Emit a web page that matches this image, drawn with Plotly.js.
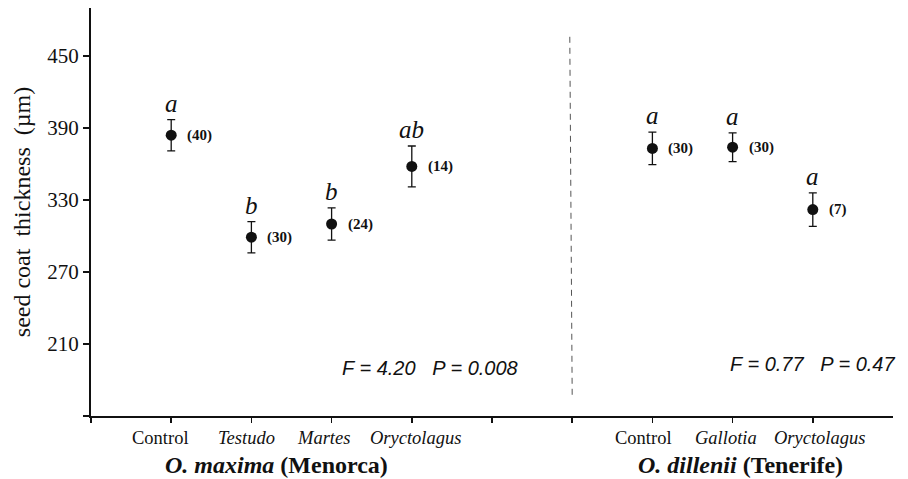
<!DOCTYPE html>
<html><head><meta charset="utf-8">
<script src="https://cdn.plot.ly/plotly-3.0.1.min.js"></script>
<style>html,body{margin:0;padding:0;background:#fff}#chart{width:908px;height:479px}</style>
</head><body><div id="chart"></div>
<script>
// Data
const categories = ["Control","Testudo","Martes","Oryctolagus","Control","Gallotia","Oryctolagus"];
const italicCat = [false,true,true,true,false,true,true];
const xPos = [1,2,3,4,7,8,9];
const means = [384,299,310,358,373,374,322];
const errs = [13,13,13.5,17,13.5,12,14];
const letters = ["a","b","b","ab","a","a","a"];
const nSizes = ["(40)","(30)","(24)","(14)","(30)","(30)","(7)"];
const groupTitles = ["<i>O. maxima</i> (Menorca)","<i>O. dillenii</i> (Tenerife)"];
const groupX = [2.31,8.1];
const stats = ["F = 4.20   P = 0.008","F = 0.77   P = 0.47"];
const statX = [4.23,9.0];
const statY = [190,193];
const yTicks = [150,210,270,330,390,450];
const yTickText = ["","210","270","330","390","450"];

// label pixel offsets (style)
const labelShift = [-11,-5,-8,3.5,-8.5,-6.5,6.5];
const serif = "Liberation Serif";

const trace = {
  x: xPos, y: means, type: "scatter", mode: "markers",
  marker: {color: "#111", size: 11},
  error_y: {type: "data", array: errs, visible: true, color: "#111", thickness: 1.3, width: 4},
  hoverinfo: "none", showlegend: false
};

const annotations = [];
xPos.forEach((x,i)=>{
  annotations.push({x:x, y:means[i]+errs[i], text:"<i>"+letters[i]+"</i>", showarrow:false,
    xanchor:"center", yanchor:"bottom", yshift:1, font:{family:serif,size:25,color:"#111"}});
  annotations.push({x:x, y:means[i], text:"<b>"+nSizes[i]+"</b>", showarrow:false,
    xanchor:"left", yanchor:"middle", xshift:14, font:{family:serif,size:15,color:"#111"}});
  annotations.push({x:x, y:0, yref:"paper", text: italicCat[i] ? "<i>"+categories[i]+"</i>" : categories[i],
    showarrow:false, xanchor:"center", yanchor:"top", yshift:-10, xshift: labelShift[i],
    font:{family:serif,size:18.5,color:"#111"}});
});
groupTitles.forEach((t,i)=>{
  annotations.push({x:groupX[i], y:0, yref:"paper", text:"<b>"+t+"</b>", showarrow:false,
    xanchor:"center", yanchor:"top", yshift:-34, font:{family:serif,size:24,color:"#111"}});
});
stats.forEach((t,i)=>{
  annotations.push({x:statX[i], y:statY[i], text:"<i>"+t+"</i>", showarrow:false, xanchor:"center", yanchor:"middle",
    font:{family:"Liberation Sans",size:20,color:"#111"}});
});

const layout = {
  width: 908, height: 479,
  margin: {l:91, r:15, t:8, b:63},
  paper_bgcolor: "#fff", plot_bgcolor: "#fff",
  font: {family: serif, color: "#111"},
  xaxis: {range:[0,10], showgrid:false, zeroline:false, showline:true, linecolor:"#111", linewidth:2,
    tickmode:"array", tickvals:[0,1,2,3,4,5,6,7,8,9], showticklabels:false,
    ticks:"outside", ticklen:5, tickwidth:1.5, tickcolor:"#111"},
  yaxis: {range:[150,490], showgrid:false, zeroline:false, showline:true, linecolor:"#111", linewidth:2,
    tickmode:"array", tickvals:yTicks, ticktext:yTickText,
    ticks:"outside", ticklen:6, tickwidth:1.5, tickcolor:"#111",
    tickfont:{family:serif, size:21, color:"#111"},
    title:{text:"seed coat  thickness  (µm)", font:{family:serif,size:24,color:"#111"}, standoff:10}},
  shapes: [{type:"line", x0:5.97, x1:6.0, y0:466, y1:166, xref:"x", yref:"y",
    line:{color:"#555", width:1, dash:"6px,5px"}}],
  annotations: annotations
};

Plotly.newPlot("chart", [trace], layout, {staticPlot:true, displayModeBar:false});
</script>
</body></html>
